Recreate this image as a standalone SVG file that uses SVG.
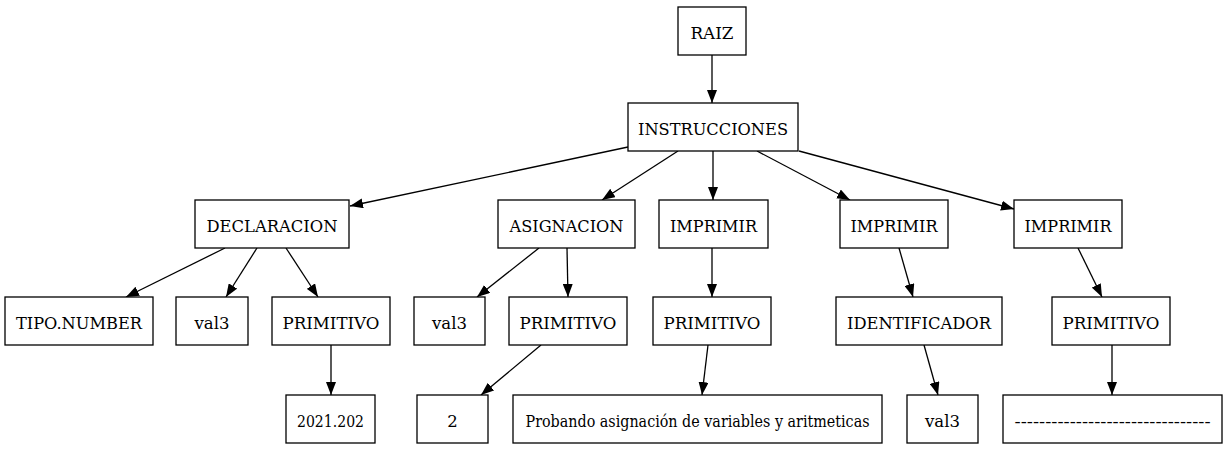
<svg xmlns="http://www.w3.org/2000/svg" width="1227" height="449" viewBox="0 0 1227 449">
<style>
.n rect{fill:#fff;stroke:#000;stroke-width:1.3}
.n text{font-family:"DejaVu Serif","Liberation Serif",serif;font-size:16.5px;text-anchor:middle;fill:#000}
#edges line{stroke:#000;stroke-width:1.3;marker-end:url(#ah)}
</style>
<defs>
<marker id="ah" viewBox="0 0 13 10" refX="13" refY="5" markerWidth="13" markerHeight="10" markerUnits="userSpaceOnUse" orient="auto">
<path d="M0,0 L13,5 L0,10 z" fill="#000"/>
</marker>
</defs>
<rect width="1227" height="449" fill="#fff"/>
<g id="edges">
<line x1="712" y1="55" x2="712" y2="103"/>
<line x1="628" y1="147" x2="350" y2="206"/>
<line x1="678" y1="151" x2="602" y2="200"/>
<line x1="713" y1="151" x2="713" y2="200"/>
<line x1="757" y1="151" x2="850" y2="200"/>
<line x1="799" y1="151" x2="1014" y2="209"/>
<line x1="225" y1="248" x2="126" y2="297"/>
<line x1="257" y1="248" x2="226" y2="297"/>
<line x1="286" y1="248" x2="318" y2="297"/>
<line x1="539" y1="248" x2="477" y2="297"/>
<line x1="567" y1="248" x2="568" y2="297"/>
<line x1="712" y1="248" x2="712" y2="297"/>
<line x1="899" y1="248" x2="913" y2="297"/>
<line x1="1078" y1="248" x2="1102" y2="297"/>
<line x1="331" y1="345" x2="331" y2="395"/>
<line x1="541" y1="345" x2="481" y2="395"/>
<line x1="708" y1="345" x2="702" y2="395"/>
<line x1="924" y1="345" x2="938" y2="395"/>
<line x1="1112" y1="345" x2="1112" y2="395"/>
</g>
<g id="raiz" class="n"><rect x="678" y="7" width="68" height="48"/><text x="712" y="39" textLength="43" lengthAdjust="spacingAndGlyphs">RAIZ</text></g>
<g id="instrucciones" class="n"><rect x="628" y="103" width="170" height="48"/><text x="713" y="135" textLength="150" lengthAdjust="spacingAndGlyphs">INSTRUCCIONES</text></g>
<g id="declaracion" class="n"><rect x="195" y="200" width="154" height="48"/><text x="272" y="232" textLength="131" lengthAdjust="spacingAndGlyphs">DECLARACION</text></g>
<g id="asignacion" class="n"><rect x="498" y="200" width="137" height="48"/><text x="566.5" y="232" textLength="114" lengthAdjust="spacingAndGlyphs">ASIGNACION</text></g>
<g id="imprimir1" class="n"><rect x="659" y="200" width="109" height="48"/><text x="713.5" y="232" textLength="87" lengthAdjust="spacingAndGlyphs">IMPRIMIR</text></g>
<g id="imprimir2" class="n"><rect x="840" y="200" width="108" height="48"/><text x="894" y="232" textLength="87" lengthAdjust="spacingAndGlyphs">IMPRIMIR</text></g>
<g id="imprimir3" class="n"><rect x="1014" y="200" width="108" height="48"/><text x="1068" y="232" textLength="87" lengthAdjust="spacingAndGlyphs">IMPRIMIR</text></g>
<g id="tipo" class="n"><rect x="5" y="297" width="148" height="48"/><text x="79" y="329" textLength="126" lengthAdjust="spacingAndGlyphs">TIPO.NUMBER</text></g>
<g id="val3a" class="n"><rect x="176" y="297" width="72" height="48"/><text x="212" y="329" textLength="35" lengthAdjust="spacingAndGlyphs">val3</text></g>
<g id="primitivo1" class="n"><rect x="272" y="297" width="118" height="48"/><text x="331" y="329" textLength="97" lengthAdjust="spacingAndGlyphs">PRIMITIVO</text></g>
<g id="val3b" class="n"><rect x="414" y="297" width="71" height="48"/><text x="449.5" y="329" textLength="35" lengthAdjust="spacingAndGlyphs">val3</text></g>
<g id="primitivo2" class="n"><rect x="509" y="297" width="118" height="48"/><text x="568" y="329" textLength="97" lengthAdjust="spacingAndGlyphs">PRIMITIVO</text></g>
<g id="primitivo3" class="n"><rect x="653" y="297" width="118" height="48"/><text x="712" y="329" textLength="97" lengthAdjust="spacingAndGlyphs">PRIMITIVO</text></g>
<g id="identificador" class="n"><rect x="836" y="297" width="166" height="48"/><text x="919" y="329" textLength="144" lengthAdjust="spacingAndGlyphs">IDENTIFICADOR</text></g>
<g id="primitivo4" class="n"><rect x="1052" y="297" width="118" height="48"/><text x="1111" y="329" textLength="97" lengthAdjust="spacingAndGlyphs">PRIMITIVO</text></g>
<g id="num2021" class="n"><rect x="286" y="395" width="89" height="48"/><text x="330.5" y="427" textLength="67" lengthAdjust="spacingAndGlyphs">2021.202</text></g>
<g id="num2" class="n"><rect x="417" y="395" width="71" height="48"/><text x="452.5" y="427">2</text></g>
<g id="probando" class="n"><rect x="513" y="395" width="369" height="48"/><text x="697.5" y="427" font-size="15.5" textLength="344" lengthAdjust="spacingAndGlyphs">Probando asignación de variables y aritmeticas</text></g>
<g id="val3c" class="n"><rect x="907" y="395" width="71" height="48"/><text x="942.5" y="427" textLength="35" lengthAdjust="spacingAndGlyphs">val3</text></g>
<g id="dashes" class="n"><rect x="1003" y="395" width="219" height="48"/><text x="1112.5" y="427" textLength="196" lengthAdjust="spacingAndGlyphs">--------------------------------</text></g>
</svg>
